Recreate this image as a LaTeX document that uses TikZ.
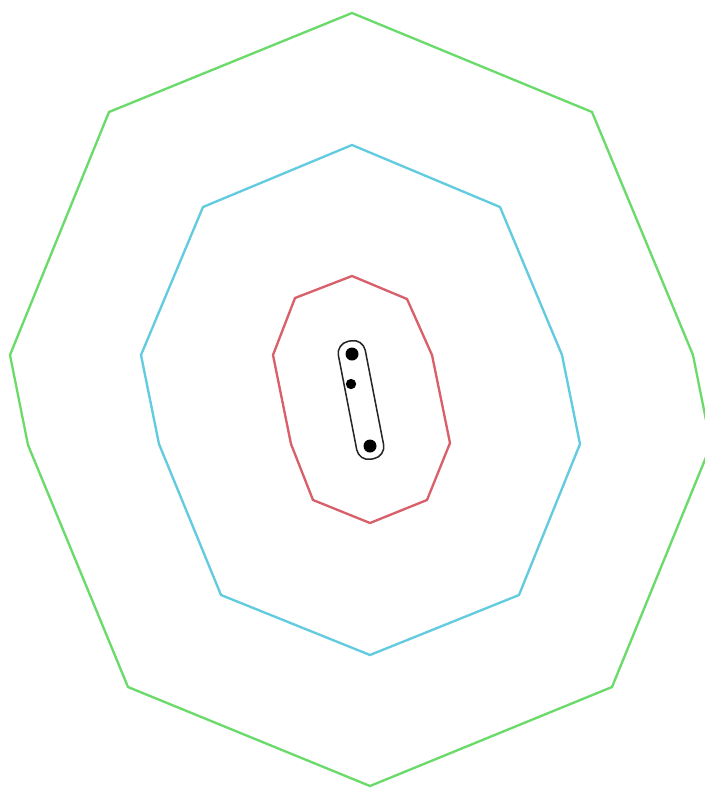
\documentclass[tikz,border=0pt]{standalone}
\usepackage{tikz}
\usetikzlibrary{calc}
\definecolor{ringgreen}{HTML}{6ADB6A}
\definecolor{ringcyan}{HTML}{62CBE0}
\definecolor{ringred}{HTML}{D8606A}

\begin{document}
\begin{tikzpicture}[x=0.3mm, y=-0.3mm,
    ring/.style={line width=2pt, line join=miter},
    pt/.style={circle, fill=black, inner sep=0pt}]
  \useasboundingbox (0,0) rectangle (705,788);
  \clip (0,0) rectangle (705,788);

  % Outer ring
  \draw[ring, ringgreen] (352,13) -- (592,112) -- (693,355) -- (711,445)
    -- (612,687) -- (370,786) -- (128,687) -- (28,445) -- (10,355)
    -- (109,112) -- cycle;

  % Middle ring
  \draw[ring, ringcyan] (352,145) -- (500,207) -- (562,355) -- (580,444)
    -- (519,595) -- (370,655) -- (221,595) -- (159,444) -- (141,355)
    -- (203,207) -- cycle;

  % Inner ring
  \draw[ring, ringred] (352,276) -- (407,299) -- (432,355) -- (450,443)
    -- (427,500) -- (370,523) -- (313,500) -- (291,444) -- (273,355)
    -- (295,298) -- cycle;

  % Hull round the points
  \node[draw=black!85, line width=1.3pt, rounded corners=3.6mm, rotate=-79,
        minimum width=36mm, minimum height=8.2mm, inner sep=0pt]
        (hull) at (361,400) {};

  % Points
  \node[pt, minimum size=3.9mm] (p1) at (352,354) {};
  \node[pt, minimum size=3.1mm] (p2) at (351,384) {};
  \node[pt, minimum size=3.9mm] (p3) at (370,446) {};
\end{tikzpicture}
\end{document}
